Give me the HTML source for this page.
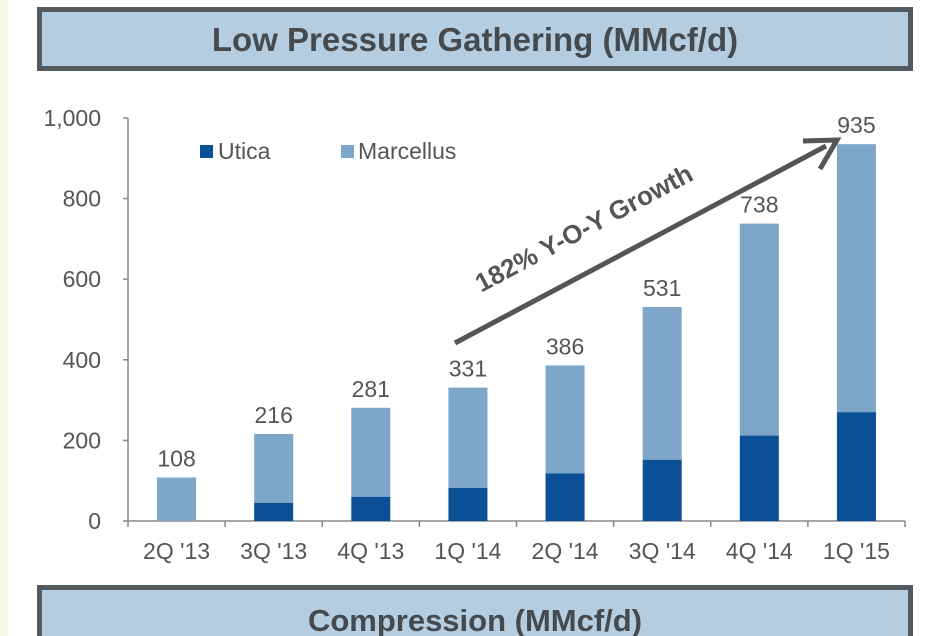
<!DOCTYPE html>
<html><head><meta charset="utf-8"><style>
html,body{margin:0;width:927px;height:636px;overflow:hidden}
body{background:#fff;font-family:"Liberation Sans",sans-serif;position:relative}
.strip{position:absolute;left:0;top:0;width:8px;height:636px;background:#f8f6e6}
.hdr{position:absolute;left:37px;width:866px;background:#b5cde1;border:5px solid #555a5e;color:#454a4f;font-weight:bold;text-align:center;box-sizing:content-box}
</style></head><body>
<div class="strip"></div>
<div class="hdr" style="top:7px;height:54px;line-height:56px;font-size:33px">Low Pressure Gathering (MMcf/d)</div>
<div class="hdr" style="top:585px;height:60px;line-height:62px;font-size:31px;border-bottom:none">Compression (MMcf/d)</div>
<svg id="c" width="927" height="636" style="position:absolute;left:0;top:0"></svg>
<script>
const categories=["2Q '13","3Q '13","4Q '13","1Q '14","2Q '14","3Q '14","4Q '14","1Q '15"];
const utica=[0,45,60,82,118,152,212,270];
const totals=[108,216,281,331,386,531,738,935];
const yTicks=[0,200,400,600,800,1000];
const yTickLabels=["0","200","400","600","800","1,000"];
const svg=document.getElementById('c');const NS='http://www.w3.org/2000/svg';
const x0=128,x1=905,y0=521,yTop=118;
const y=v=>y0-(v/1000)*(y0-yTop);
const cw=(x1-x0)/categories.length;
function mk(t,a,p){const e=document.createElementNS(NS,t);for(const k in a)e.setAttribute(k,a[k]);(p||svg).appendChild(e);return e;}
let e;
e=mk('line',{x1:x0,y1:yTop,x2:x0,y2:y0,stroke:'#888','stroke-width':1.5});


e=mk('line',{x1:x0,y1:y0,x2:x1,y2:y0,stroke:'#888','stroke-width':1.5});


yTicks.forEach((v,i)=>{
 mk('line',{x1:x0-5,y1:y(v),x2:x0,y2:y(v),stroke:'#888','stroke-width':1.5});
 e=mk('text',{x:x0-27,y:y(v)+8,'text-anchor':'end','font-size':23,fill:'#555'});e.textContent=yTickLabels[i];
 
 
});
for(let i=0;i<=categories.length;i++)mk('line',{x1:x0+i*cw,y1:y0,x2:x0+i*cw,y2:y0+6,stroke:'#888','stroke-width':1.5});
categories.forEach((c,i)=>{
 const cx=x0+cw*(i+0.5),bw=39;
 e=mk('rect',{x:cx-bw/2,y:y(totals[i]),width:bw,height:y(utica[i])-y(totals[i]),fill:'#7ea6c9'});
 
 
 e=mk('rect',{x:cx-bw/2,y:y(utica[i]),width:bw,height:y0-y(utica[i]),fill:'#0b5096'});
 
 
 e=mk('text',{x:cx,y:y(totals[i])-11,'text-anchor':'middle','font-size':23,fill:'#555'});e.textContent=totals[i];
 
 
 e=mk('text',{x:cx,y:559,'text-anchor':'middle','font-size':23,fill:'#555'});e.textContent=c;
 
 
});
e=mk('rect',{x:200,y:145,width:13,height:13,fill:'#0b5096'});


e=mk('text',{x:218,y:159,'font-size':23,fill:'#555'});e.textContent='Utica';


e=mk('rect',{x:341,y:145,width:13,height:13,fill:'#7ea6c9'});


e=mk('text',{x:358,y:159,'font-size':23,fill:'#555'});e.textContent='Marcellus';


e=mk('line',{x1:455,y1:343,x2:826,y2:146,stroke:'#555','stroke-width':5});


mk('polyline',{points:'803,141 837,140 820,169',fill:'none',stroke:'#555','stroke-width':5,'stroke-linejoin':'miter'});
e=mk('text',{x:0,y:0,'font-size':26,'font-weight':'bold',fill:'#555','text-anchor':'middle',transform:'translate(588,236) rotate(-28)'});e.textContent='182% Y-O-Y Growth';


</script>
</body></html>
